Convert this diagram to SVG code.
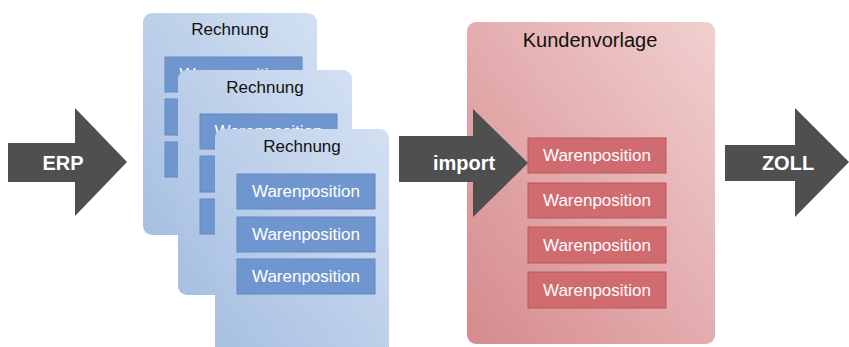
<svg xmlns="http://www.w3.org/2000/svg" width="849" height="347" viewBox="0 0 849 347">
<defs>
<linearGradient id="blueG" x1="0" y1="1" x2="1" y2="0">
<stop offset="0" stop-color="#a6bfe1"/>
<stop offset="1" stop-color="#d3e0f2"/>
</linearGradient>
<linearGradient id="redG" x1="0" y1="1" x2="1" y2="0">
<stop offset="0" stop-color="#d68a8d"/>
<stop offset="1" stop-color="#f1d0d0"/>
</linearGradient>
<style>
.card{fill:url(#blueG);}
.rcard{fill:url(#redG);}
.bbox{fill:#6f96cf;stroke:#6388c2;stroke-width:1;}
.rbox{fill:#d06c70;stroke:#b9575b;stroke-width:1;}
.arrow{fill:#4f4f4f;}
.title{font-family:"Liberation Sans",Arial,sans-serif;font-size:17px;fill:#111;text-anchor:middle;}
.ktitle{font-family:"Liberation Sans",Arial,sans-serif;font-size:20px;fill:#111;text-anchor:middle;}
.item{font-family:"Liberation Sans",Arial,sans-serif;font-size:17px;fill:#ffffff;text-anchor:middle;}
.alabel{font-family:"Liberation Sans",Arial,sans-serif;font-size:20px;font-weight:bold;fill:#ffffff;text-anchor:middle;}
</style>
</defs>
<rect width="849" height="347" fill="#ffffff"/>

<g id="rechnung1">
<rect class="card" x="143" y="13" width="174" height="222" rx="9"/>
<text class="title" x="230" y="35">Rechnung</text>
<rect class="bbox" x="165" y="57" width="137" height="35"/>
<text class="item" x="233.5" y="80">Warenposition</text>
<rect class="bbox" x="165" y="99" width="137" height="36"/>
<rect class="bbox" x="165" y="142" width="137" height="35"/>
</g>

<g id="rechnung2">
<rect class="card" x="178" y="70" width="174" height="225" rx="9"/>
<text class="title" x="265" y="93">Rechnung</text>
<rect class="bbox" x="200" y="114" width="137" height="35"/>
<text class="item" x="268.5" y="137">Warenposition</text>
<rect class="bbox" x="200" y="156" width="137" height="36"/>
<rect class="bbox" x="200" y="199" width="137" height="35"/>
</g>

<g id="rechnung3">
<rect class="card" x="215" y="129" width="174" height="230" rx="9"/>
<text class="title" x="302" y="152">Rechnung</text>
<rect class="bbox" x="237" y="174" width="138" height="35"/>
<text class="item" x="306" y="197">Warenposition</text>
<rect class="bbox" x="237" y="217" width="138" height="35"/>
<text class="item" x="306" y="240">Warenposition</text>
<rect class="bbox" x="237" y="259" width="138" height="35"/>
<text class="item" x="306" y="282">Warenposition</text>
</g>

<g id="kundenvorlage">
<rect class="rcard" x="467" y="22" width="248" height="322" rx="9"/>
<text class="ktitle" x="590" y="47">Kundenvorlage</text>
<rect class="rbox" x="528" y="138" width="138" height="35"/>
<text class="item" x="597" y="161">Warenposition</text>
<rect class="rbox" x="528" y="183" width="138" height="35"/>
<text class="item" x="597" y="206">Warenposition</text>
<rect class="rbox" x="528" y="227" width="138" height="36"/>
<text class="item" x="597" y="251">Warenposition</text>
<rect class="rbox" x="528" y="272" width="138" height="36"/>
<text class="item" x="597" y="296">Warenposition</text>
</g>

<g id="connectors">
<g id="arrow-erp">
<polygon class="arrow" points="8,143 75,143 75,108 127,162 75,216 75,182 8,182"/>
<text class="alabel" x="63" y="170">ERP</text>
</g>
<g id="arrow-import">
<polygon class="arrow" points="399,136 473,136 473,109 528,163 473,217 473,182 399,182"/>
<text class="alabel" x="464" y="170">import</text>
</g>
<g id="arrow-zoll">
<polygon class="arrow" points="725,145 795,145 795,108 849,162 795,217 795,181 725,181"/>
<text class="alabel" x="788" y="170">ZOLL</text>
</g>
</g>
</svg>
